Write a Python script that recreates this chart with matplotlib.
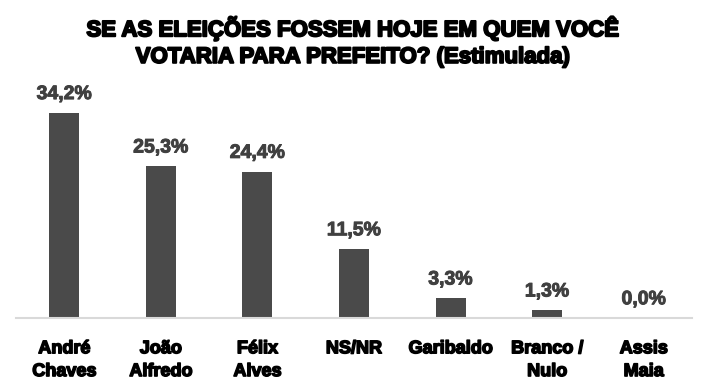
import matplotlib.pyplot as plt
import matplotlib.patheffects as pe

categorias = ["André\nChaves", "João\nAlfredo", "Félix\nAlves", "NS/NR",
              "Garibaldo", "Branco /\nNulo", "Assis\nMaia"]
valores = [34.2, 25.3, 24.4, 11.5, 3.3, 1.3, 0.0]
titulo = "SE AS ELEIÇÕES FOSSEM HOJE EM QUEM VOCÊ\nVOTARIA PARA PREFEITO? (Estimulada)"

plt.rcParams['font.family'] = ['Liberation Sans', 'DejaVu Sans']

fig = plt.figure(figsize=(7.06, 3.89), dpi=100)
ax = fig.add_axes([16 / 706, 71 / 389, 676 / 706, 240 / 389])

x = range(len(categorias))
bars = ax.bar(x, valores, width=0.31, color='#4a4a4a')
ax.set_xlim(-0.5, len(categorias) - 0.5)
ax.set_ylim(0, 40)

# rotulos de valor
for b, v in zip(bars, valores):
    ax.annotate(f"{v:.1f}%".replace('.', ','), (b.get_x() + b.get_width() / 2, v),
                xytext=(0, 7), textcoords='offset points', ha='center', va='bottom',
                fontsize=14, fontweight='bold', color='#404040',
                path_effects=[pe.withStroke(linewidth=0.7, foreground='#404040')])

ax.set_xticks(list(x))
ax.set_xticklabels(categorias, fontsize=13, fontweight='bold', color='black',
                   linespacing=1.45)
for t in ax.get_xticklabels():
    t.set_path_effects([pe.withStroke(linewidth=1.1, foreground='black')])
ax.tick_params(axis='x', length=0, pad=16)
ax.set_yticks([])
for s in ['top', 'right', 'left']:
    ax.spines[s].set_visible(False)
ax.spines['bottom'].set_color('#d9d9d9')
ax.spines['bottom'].set_linewidth(1.5)

fig.text(353 / 706, 1 - 42 / 389, titulo, ha='center', va='center', fontsize=16,
         fontweight='bold', color='black', linespacing=1.35,
         path_effects=[pe.withStroke(linewidth=1.4, foreground='black')])

fig.savefig('out.png', dpi=100, facecolor='white')
